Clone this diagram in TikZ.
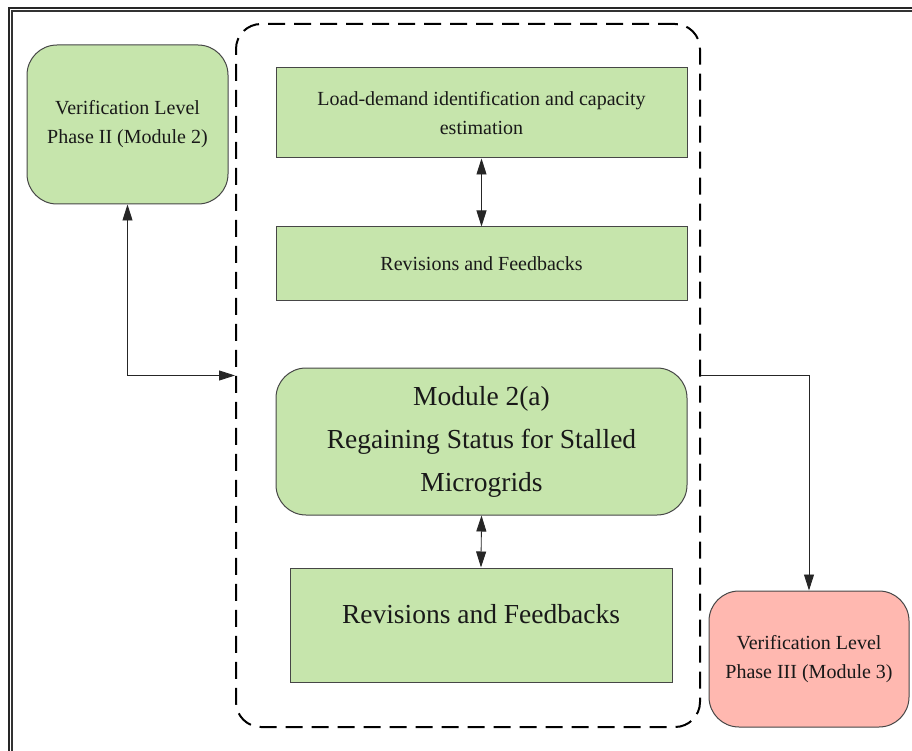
\documentclass[tikz,border=0pt]{standalone}
\usepackage{fontspec}
\setmainfont{Liberation Serif}
\usetikzlibrary{arrows.meta}
\definecolor{boxgreen}{RGB}{198,229,172}
\definecolor{boxred}{RGB}{255,184,176}
\definecolor{edgegray}{RGB}{70,70,70}
\definecolor{txt}{RGB}{25,25,25}
\begin{document}
\begin{tikzpicture}[x=1pt,y=-1pt,
  base/.style={draw=edgegray, line width=1pt, align=center, inner sep=0pt, text=txt},
  gbox/.style={base, fill=boxgreen},
  rbox/.style={base, fill=boxred},
  smalltxt/.style={font=\fontsize{20}{29}\selectfont},
  bigtxt/.style={font=\fontsize{27.5}{43}\selectfont},
  grpbox/.style={draw=black, line width=2pt, dash pattern=on 17pt off 9pt, rounded corners=25pt},
  conn/.style={draw=black!85, line width=0.9pt},
  tip/.tip={Triangle[length=16pt,width=10pt]}
]
\useasboundingbox (0,0) rectangle (912,751);
% outer frame (top and left, double)
\draw[line width=1.6pt, black!85] (912,8) -- (9,8) -- (9,751);
\draw[line width=1.2pt, black!80] (912,11) -- (12,11) -- (12,751);

% dashed group
\node[grpbox, minimum width=464pt, minimum height=703pt] (grp) at (468,375.5) {};

% nodes
\node[gbox, smalltxt, rounded corners=30pt, minimum width=201pt, minimum height=159pt] (vl2) at (127.5,124.5)
  {Verification Level\\Phase II (Module 2)};
\node[gbox, smalltxt, minimum width=411pt, minimum height=90pt] (b1) at (481.5,113)
  {Load-demand identification and capacity\\estimation};
\node[gbox, smalltxt, minimum width=411pt, minimum height=73pt] (b2) at (481.5,263.5)
  {Revisions and Feedbacks};
\node[gbox, bigtxt, rounded corners=30pt, minimum width=411pt, minimum height=147pt] (m2) at (481.5,441.5)
  {Module 2(a)\\Regaining Status for Stalled\\Microgrids};
\node[gbox, bigtxt, minimum width=382pt, minimum height=114pt] (b4) at (481,625)
  {Revisions and Feedbacks\rule[-22pt]{0pt}{0pt}};
\node[rbox, smalltxt, rounded corners=30pt, minimum width=200pt, minimum height=136pt] (vl3) at (809,659)
  {Verification Level\\Phase III (Module 3)};

% connectors
\draw[conn, tip-tip] (b1.south) -- (b2.north);
\draw[conn, tip-tip] (m2.south) -- (b4.north);
\draw[conn, tip-tip] (vl2.south) |- (grp.west);
\draw[conn, -tip] (grp.east) -| (vl3.north);
\end{tikzpicture}
\end{document}
